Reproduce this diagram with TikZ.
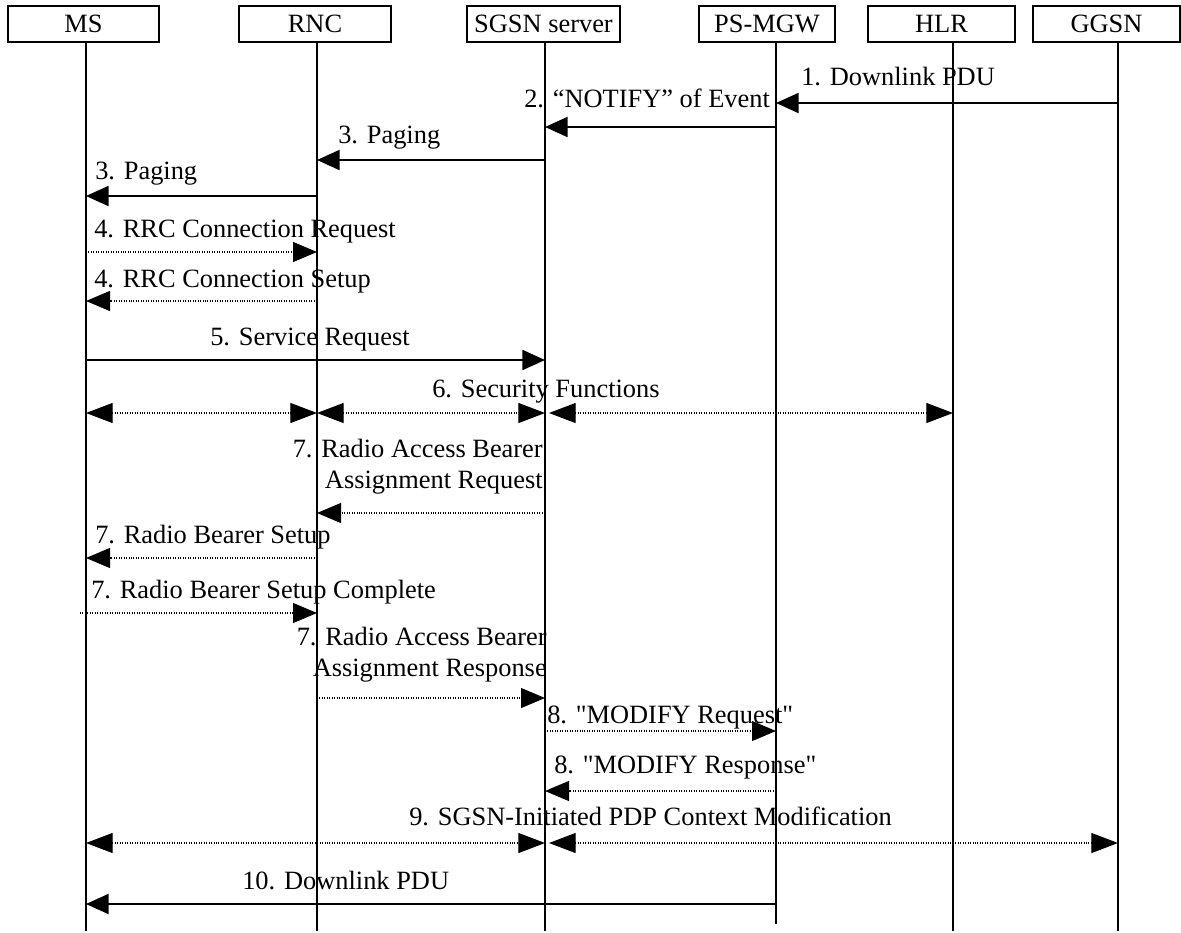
\documentclass[tikz,border=0pt]{standalone}
\usepackage{fontspec}
\setmainfont{Liberation Serif}
\usetikzlibrary{arrows.meta}
\newcommand{\sq}{\XeTeXglyph\XeTeXcharglyph"22\relax}
\begin{document}
\begin{tikzpicture}[x=0.75pt,y=-0.75pt,
  every node/.style={font=\fontsize{19.8}{23.25}\selectfont},
  hdr/.style={draw, line width=1.1pt, minimum height=27pt, inner sep=0pt},
  life/.style={line width=0.8pt},
  sol/.style={line width=1.6pt, -{Triangle[length=17pt,width=15pt]}},
  dot/.style={line width=0.8pt, dash pattern=on 0.75pt off 1.1pt, -{Triangle[length=18pt,width=15pt]}},
  dotboth/.style={line width=0.8pt, dash pattern=on 0.75pt off 1.1pt, {Triangle[length=20pt,width=15pt]}-{Triangle[length=20pt,width=15pt]}},
  lbl/.style={anchor=mid west, inner sep=0pt},
  lblr/.style={anchor=east, inner sep=0pt, align=right},
]
\useasboundingbox (0,0) rectangle (1181,932);
% headers
\node[hdr, minimum width=113.25pt] (hms)   at (83.5,24)  {MS};
\node[hdr, minimum width=114pt]    (hrnc)  at (315,24)   {RNC};
\node[hdr, minimum width=114.75pt] (hsgsn) at (543.5,24) {SGSN server};
\node[hdr, minimum width=102pt]    (hmgw)  at (767,24)   {PS-MGW};
\node[hdr, minimum width=110.25pt] (hhlr)  at (941.5,24) {HLR};
\node[hdr, minimum width=110.25pt] (hggsn) at (1106.5,24) {GGSN};
% lifeline tops
\coordinate (ms)   at (86,42);
\coordinate (rnc)  at (317,42);
\coordinate (sgsn) at (545,42);
\coordinate (mgw)  at (776,42);
\coordinate (hlr)  at (953,42);
\coordinate (ggsn) at (1118,42);
\draw[life] (ms)   -- (ms |- 0,931);
\draw[life] (rnc)  -- (rnc |- 0,931);
\draw[life] (sgsn) -- (sgsn |- 0,931);
\draw[life] (mgw)  -- (mgw |- 0,924);
\draw[life] (hlr)  -- (hlr |- 0,931);
\draw[life] (ggsn) -- (ggsn |- 0,931);
% 1
\node[lbl] (l1) at (801,82) {1. Downlink PDU};
\draw[sol] (ggsn |- 0,103) -- (mgw |- 0,103);
% 2
\node[lbl] (l2) at (524,104) {2. “NOTIFY” of Event};
\draw[sol] (mgw |- 0,127) -- (sgsn |- 0,127);
% 3
\node[lbl] (l3) at (338,140) {3. Paging};
\draw[sol] (sgsn |- 0,160) -- (rnc |- 0,160);
\node[lbl] (l3b) at (95,176) {3. Paging};
\draw[sol] (rnc |- 0,196) -- (ms |- 0,196);
% 4
\node[lbl] (l4) at (94,234) {4. RRC Connection Request};
\draw[dot] (ms |- 0,252) -- (rnc |- 0,252);
\node[lbl] (l4b) at (94,284) {4. RRC Connection Setup};
\draw[dot] (rnc |- 0,301) -- (ms |- 0,301);
% 5
\node[lbl] (l5) at (210,342) {5. Service Request};
\draw[sol] (ms |- 0,360) -- (sgsn |- 0,360);
% 6
\node[lbl] (l6) at (432,394) {6. Security Functions};
\draw[dotboth] (ms |- 0,413) -- (rnc |- 0,413);
\draw[dotboth] (rnc |- 0,413) -- (sgsn |- 0,413);
\draw[dotboth, shorten <=3pt] (sgsn |- 0,413) -- (hlr |- 0,413);
% 7
\node[lblr] (l7) at (543,467) {7. Radio Access Bearer\\Assignment Request};
\draw[dot] (sgsn |- 0,513) -- (rnc |- 0,513);
\node[lbl] (l7b) at (95,540) {7. Radio Bearer Setup};
\draw[dot] (rnc |- 0,558) -- (ms |- 0,558);
\node[lbl] (l7c) at (91,595) {7. Radio Bearer Setup Complete};
\draw[dot, shorten <=-4.5pt] (ms |- 0,613) -- (rnc |- 0,613);
\node[lblr] (l7d) at (547,655) {7. Radio Access Bearer\\Assignment Response};
\draw[dot] (rnc |- 0,698) -- (sgsn |- 0,698);
% 8
\node[lbl] (l8) at (547,720) {8. \sq MODIFY Request\sq};
\draw[dot] (sgsn |- 0,731) -- (mgw |- 0,731);
\node[lbl] (l8b) at (554,770) {8. \sq MODIFY Response\sq};
\draw[dot] (mgw |- 0,791) -- (sgsn |- 0,791);
% 9
\node[lbl] (l9) at (409,822) {9. SGSN-Initiated PDP Context Modification};
\draw[dotboth] (ms |- 0,843) -- (sgsn |- 0,843);
\draw[dotboth, shorten <=3pt] (sgsn |- 0,843) -- (ggsn |- 0,843);
% 10
\node[lbl] (l10) at (242,886) {10. Downlink PDU};
\draw[sol] (mgw |- 0,904) -- (ms |- 0,904);
\end{tikzpicture}
\end{document}
